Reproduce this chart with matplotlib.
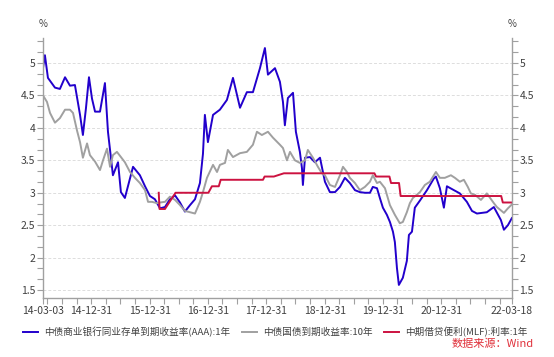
import pandas as pd
import matplotlib.pyplot as plt
import matplotlib.dates as mdates
from matplotlib.ticker import MultipleLocator, FixedLocator

plt.rcParams['font.family'] = ['Noto Sans CJK SC', 'DejaVu Sans']

# 中债商业银行同业存单到期收益率(AAA):1年
ncd_dates = [
    '2014-03-03', '2014-03-15', '2014-04-03', '2014-05-17', '2014-06-17', '2014-07-19',
    '2014-08-19', '2014-09-19', '2014-10-21', '2014-11-08', '2014-11-27', '2014-12-16',
    '2015-01-04', '2015-01-23', '2015-02-23', '2015-03-26', '2015-04-14', '2015-05-15',
    '2015-06-16', '2015-07-04', '2015-07-29', '2015-09-18', '2015-10-31', '2015-12-02',
    '2016-01-02', '2016-02-02', '2016-03-05', '2016-04-05', '2016-05-06', '2016-06-07',
    '2016-07-08', '2016-08-08', '2016-09-09', '2016-10-10', '2016-11-10', '2016-11-29',
    '2016-12-11', '2016-12-30', '2017-01-31', '2017-03-15', '2017-04-28', '2017-06-05',
    '2017-07-19', '2017-08-31', '2017-10-08', '2017-11-21', '2017-12-22', '2018-01-10',
    '2018-02-23', '2018-03-26', '2018-04-14', '2018-04-26', '2018-05-15', '2018-06-16',
    '2018-07-04', '2018-07-29', '2018-08-11', '2018-08-17', '2018-08-30', '2018-09-30',
    '2018-10-31', '2018-12-02', '2019-01-02', '2019-02-02', '2019-03-06', '2019-04-06',
    '2019-05-07', '2019-06-07', '2019-07-09', '2019-08-09', '2019-09-09', '2019-10-11',
    '2019-10-29', '2019-11-24', '2019-12-12', '2019-12-31', '2020-01-25', '2020-02-13',
    '2020-03-03', '2020-03-15', '2020-03-28', '2020-04-09', '2020-05-04', '2020-05-29',
    '2020-06-11', '2020-06-30', '2020-07-18', '2020-08-19', '2020-10-02', '2020-11-14',
    '2020-11-27', '2020-12-22', '2021-01-16', '2021-02-04', '2021-03-20', '2021-04-26',
    '2021-06-09', '2021-07-11', '2021-08-11', '2021-10-12', '2021-11-25', '2022-01-08',
    '2022-01-27', '2022-02-21', '2022-03-18',
]
ncd_values = [
    4.92, 5.12, 4.77, 4.62, 4.60, 4.78,
    4.65, 4.66, 4.20, 3.89, 4.30, 4.78,
    4.45, 4.25, 4.25, 4.69, 3.94, 3.27,
    3.47, 3.01, 2.92, 3.40, 3.27, 3.10,
    2.95, 2.90, 2.76, 2.78, 2.90, 2.96,
    2.85, 2.71, 2.81, 2.90, 3.15, 3.60,
    4.20, 3.78, 4.20, 4.28, 4.43, 4.77,
    4.31, 4.55, 4.55, 4.92, 5.23, 4.82,
    4.92, 4.71, 4.40, 4.04, 4.46, 4.54,
    3.94, 3.63, 3.38, 3.12, 3.54, 3.55,
    3.47, 3.54, 3.17, 3.01, 3.01, 3.09,
    3.23, 3.15, 3.04, 3.01, 3.00, 3.00,
    3.09, 3.07, 2.92, 2.77, 2.66, 2.55,
    2.40, 2.24, 1.84, 1.58, 1.69, 1.95,
    2.35, 2.40, 2.77, 2.88, 3.04, 3.22,
    3.25, 3.07, 2.77, 3.10, 3.04, 2.99,
    2.86, 2.72, 2.68, 2.70, 2.78, 2.58,
    2.43, 2.50, 2.61,
]

# 中债国债到期收益率:10年
cgb_dates = [
    '2014-03-03', '2014-03-28', '2014-04-16', '2014-05-17', '2014-06-17', '2014-07-19',
    '2014-08-19', '2014-09-07', '2014-10-02', '2014-10-21', '2014-11-08', '2014-12-04',
    '2014-12-22', '2015-01-23', '2015-02-23', '2015-03-14', '2015-04-08', '2015-04-27',
    '2015-05-15', '2015-06-09', '2015-06-28', '2015-07-29', '2015-08-30', '2015-09-30',
    '2015-10-31', '2015-12-02', '2015-12-21', '2016-01-15', '2016-02-15', '2016-03-05',
    '2016-04-05', '2016-05-06', '2016-06-07', '2016-07-08', '2016-08-08', '2016-09-09',
    '2016-10-10', '2016-11-10', '2016-11-29', '2016-12-24', '2017-01-31', '2017-02-25',
    '2017-03-15', '2017-04-16', '2017-05-04', '2017-06-05', '2017-07-19', '2017-08-31',
    '2017-10-08', '2017-11-02', '2017-12-03', '2018-01-10', '2018-02-10', '2018-03-26',
    '2018-04-14', '2018-05-09', '2018-05-28', '2018-06-28', '2018-07-29', '2018-08-30',
    '2018-09-17', '2018-10-19', '2018-11-19', '2018-12-14', '2019-01-02', '2019-02-02',
    '2019-03-06', '2019-04-06', '2019-04-25', '2019-05-20', '2019-06-07', '2019-07-09',
    '2019-08-09', '2019-09-09', '2019-10-11', '2019-10-29', '2019-11-24', '2019-12-12',
    '2020-01-13', '2020-02-13', '2020-03-15', '2020-04-15', '2020-05-04', '2020-05-29',
    '2020-06-17', '2020-07-06', '2020-07-31', '2020-08-19', '2020-09-19', '2020-10-20',
    '2020-11-27', '2020-12-22', '2021-01-22', '2021-03-01', '2021-03-26', '2021-04-26',
    '2021-05-21', '2021-06-15', '2021-07-04', '2021-07-29', '2021-09-05', '2021-10-12',
    '2021-11-25', '2021-12-14', '2022-01-27', '2022-02-21', '2022-03-18',
]
cgb_values = [
    4.50, 4.40, 4.23, 4.08, 4.15, 4.28,
    4.28, 4.23, 3.96, 3.78, 3.54, 3.76,
    3.58, 3.48, 3.35, 3.50, 3.68, 3.40,
    3.58, 3.63, 3.57, 3.47, 3.32, 3.23,
    3.15, 3.04, 2.86, 2.86, 2.84, 2.85,
    2.86, 2.94, 2.89, 2.81, 2.72, 2.70,
    2.68, 2.86, 3.01, 3.23, 3.43, 3.32,
    3.43, 3.46, 3.66, 3.55, 3.61, 3.63,
    3.74, 3.94, 3.89, 3.94, 3.85, 3.74,
    3.69, 3.50, 3.63, 3.50, 3.46, 3.50,
    3.66, 3.54, 3.40, 3.30, 3.27, 3.12,
    3.09, 3.27, 3.40, 3.32, 3.23, 3.15,
    3.04, 3.09, 3.17, 3.27, 3.15, 3.17,
    3.07, 2.81, 2.66, 2.53, 2.55, 2.70,
    2.84, 2.92, 2.97, 3.01, 3.12, 3.17,
    3.32, 3.23, 3.23, 3.27, 3.23, 3.17,
    3.20, 3.09, 2.99, 2.97, 2.89, 2.99,
    2.84, 2.78, 2.69, 2.76, 2.82,
]

# 中期借贷便利(MLF):利率:1年
mlf_dates = [
    '2016-02-26', '2016-03-02', '2016-04-05', '2016-06-10', '2017-01-02', '2017-01-24',
    '2017-03-08', '2017-03-20', '2017-12-10', '2017-12-20', '2018-02-16', '2018-04-20',
    '2019-11-08', '2019-11-18', '2020-02-10', '2020-02-20', '2020-04-10', '2020-04-20',
    '2022-01-10', '2022-01-20', '2022-03-18',
]
mlf_values = [
    3.00, 2.75, 2.75, 3.00, 3.00, 3.10,
    3.10, 3.20, 3.20, 3.25, 3.25, 3.30,
    3.30, 3.25, 3.25, 3.15, 3.15, 2.95,
    2.95, 2.85, 2.85,
]

x_tick_dates = ['2014-03-03', '2014-12-31', '2015-12-31', '2016-12-31', '2017-12-31',
                '2018-12-31', '2019-12-31', '2020-12-31', '2022-03-18']
x_tick_labels = ['14-03-03', '14-12-31', '15-12-31', '16-12-31', '17-12-31',
                 '18-12-31', '19-12-31', '20-12-31', '22-03-18']

axis_gray = '#a0a0a0'
text_gray = '#404040'

fig = plt.figure(figsize=(5.54, 3.57), dpi=100)
ax = fig.add_axes([0.0776, 0.165, 0.8464, 0.7286])

ax.plot(pd.to_datetime(ncd_dates), ncd_values, color='#2200cc', lw=1.4,
        label='中债商业银行同业存单到期收益率(AAA):1年')
ax.plot(pd.to_datetime(cgb_dates), cgb_values, color='#a0a0a0', lw=1.4,
        label='中债国债到期收益率:10年')
ax.plot(pd.to_datetime(mlf_dates), mlf_values, color='#cc1240', lw=1.4,
        label='中期借贷便利(MLF):利率:1年')

ax.set_xlim(pd.Timestamp('2014-03-03'), pd.Timestamp('2022-03-18'))
ax.set_ylim(1.377, 5.385)

# y axis: labels on both sides, minor ticks at 1/6
ax.yaxis.set_major_locator(MultipleLocator(0.5))
ax.yaxis.set_minor_locator(MultipleLocator(1 / 6))
ax.yaxis.set_major_formatter(plt.FuncFormatter(lambda v, p: f'{v:g}'))
ax.tick_params(axis='y', which='both', left=True, right=True,
               labelleft=True, labelright=True, direction='out',
               length=4, width=0.8, color=axis_gray, labelsize=7.5,
               labelcolor=text_gray, pad=1.5)

# x axis
ax.xaxis.set_major_locator(FixedLocator(mdates.date2num(pd.to_datetime(x_tick_dates))))
ax.set_xticklabels(x_tick_labels)
quarter_ends = pd.date_range('2014-03-31', '2022-03-18', freq='QE')
ax.xaxis.set_minor_locator(FixedLocator(mdates.date2num(quarter_ends)))
ax.tick_params(axis='x', which='both', direction='out', length=4, width=0.8,
               color=axis_gray, labelsize=7.5, labelcolor=text_gray, pad=2)

ax.grid(axis='y', which='major', color='#dddddd', ls=(0, (3, 2)), lw=0.7)
ax.set_axisbelow(True)

for side in ['left', 'right', 'bottom']:
    ax.spines[side].set_color(axis_gray)
    ax.spines[side].set_linewidth(1.0)
ax.spines['top'].set_visible(False)

fig.text(43 / 554, 1 - 24 / 357, '%', ha='center', va='center', fontsize=7, color=text_gray)
fig.text(512 / 554, 1 - 24 / 357, '%', ha='center', va='center', fontsize=7, color=text_gray)

fig.legend(loc='center', bbox_to_anchor=(0.497, 1 - 332 / 357), ncol=3, frameon=False,
           fontsize=6.9, handlelength=1.6, handletextpad=0.6, columnspacing=1.2,
           labelcolor=text_gray)

fig.text(534 / 554, 1 - 344 / 357, '数据来源：Wind', ha='right', va='center',
         fontsize=8, color='#e0303a')

fig.savefig('out.png', dpi=100)
